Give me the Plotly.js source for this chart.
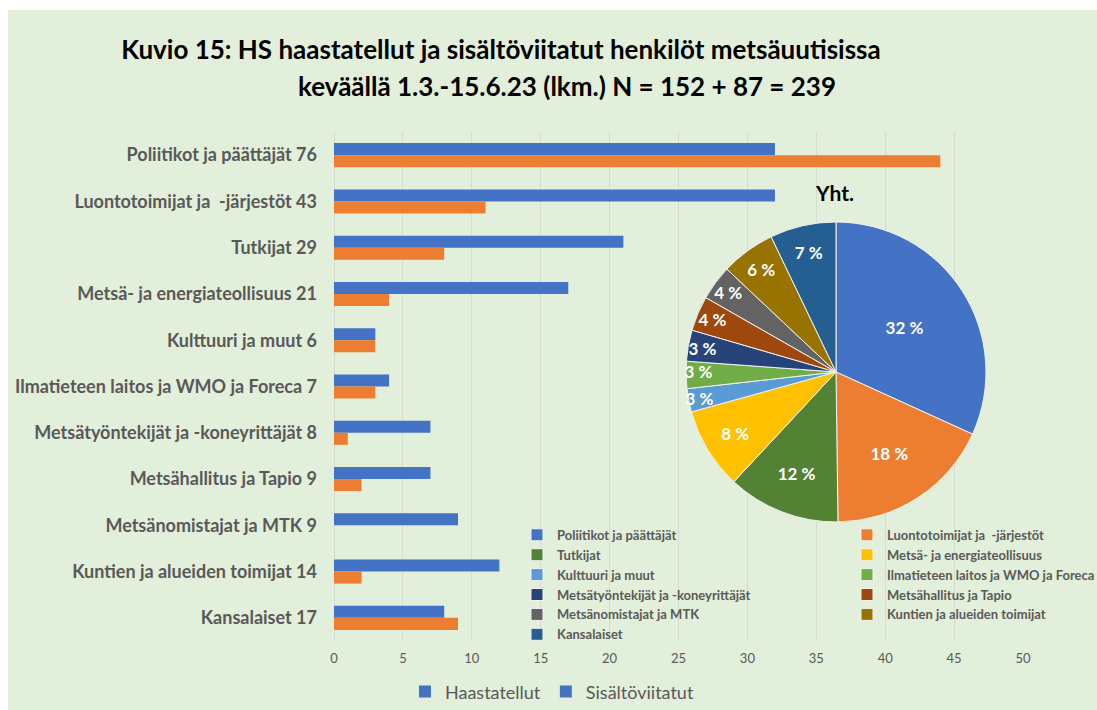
<!DOCTYPE html>
<html>
<head>
<meta charset="utf-8">
<script src="https://cdn.plot.ly/plotly-3.0.1.min.js"></script>
<style>
  html, body { margin: 0; padding: 0; background: #ffffff; width: 1097px; height: 710px; overflow: hidden; }
  #chart { position: absolute; left: 8px; top: 10px; width: 1089px; height: 700px; }
</style>
</head>
<body>
<div id="chart"></div>
<script>
// ---- Data ----
const categories = [
  'Poliitikot ja päättäjät 76',
  'Luontotoimijat ja  -järjestöt 43',
  'Tutkijat 29',
  'Metsä- ja energiateollisuus 21',
  'Kulttuuri ja muut 6',
  'Ilmatieteen laitos ja WMO ja Foreca 7',
  'Metsätyöntekijät ja -koneyrittäjät 8',
  'Metsähallitus ja Tapio 9',
  'Metsänomistajat ja MTK 9',
  'Kuntien ja alueiden toimijat 14',
  'Kansalaiset 17'
];
const haastatellut = [32, 32, 21, 17, 3, 4, 7, 7, 9, 12, 8];
const sisaltoviitatut = [44, 11, 8, 4, 3, 3, 1, 2, 0, 2, 9];

const pieGroups = [
  'Poliitikot ja päättäjät',
  'Luontotoimijat ja  -järjestöt',
  'Tutkijat',
  'Metsä- ja energiateollisuus',
  'Kulttuuri ja muut',
  'Ilmatieteen laitos ja WMO ja Foreca',
  'Metsätyöntekijät ja -koneyrittäjät',
  'Metsähallitus ja Tapio',
  'Metsänomistajat ja MTK',
  'Kuntien ja alueiden toimijat',
  'Kansalaiset'
];
const pieTotals = [76, 43, 29, 21, 6, 7, 8, 9, 9, 14, 17];
const pieLabels = ['32 %', '18 %', '12 %', '8 %', '3 %', '3 %', '3 %', '4 %', '4 %', '6 %', '7 %'];
const pieColors = ['#4472C4', '#ED7D31', '#548235', '#FFC000', '#5B9BD5', '#70AD47',
                   '#264478', '#9E480E', '#636363', '#997300', '#255E91'];

const xTicks = [0, 5, 10, 15, 20, 25, 30, 35, 40, 45, 50];

// ---- Styling ----
const FONT = 'Lato, "Open Sans", sans-serif';
const GRAY = '#595959';
const BG = '#E2EFDA';

const traces = [
  {
    type: 'bar', orientation: 'h', name: 'Haastatellut',
    y: categories, x: haastatellut,
    marker: { color: '#4472C4' },
    showlegend: false, hoverinfo: 'x+y'
  },
  {
    type: 'bar', orientation: 'h', name: 'Sisältöviitatut',
    y: categories, x: sisaltoviitatut,
    marker: { color: '#ED7D31' },
    showlegend: false, hoverinfo: 'x+y'
  },
  // legend entries (the original legend shows both swatches in blue)
  {
    type: 'scatter', mode: 'markers', name: 'Haastatellut',
    x: [null], y: [null], legend: 'legend',
    marker: { symbol: 'square', size: 12, color: '#4472C4' }
  },
  {
    type: 'scatter', mode: 'markers', name: 'Sisältöviitatut',
    x: [null], y: [null], legend: 'legend',
    marker: { symbol: 'square', size: 12, color: '#4472C4' }
  },
  {
    type: 'pie', name: 'Yht.',
    labels: pieGroups, values: pieTotals,
    text: pieLabels, textinfo: 'text',
    textposition: 'inside', insidetextorientation: 'horizontal',
    textfont: { family: FONT, size: 17, color: '#ffffff', weight: 'bold' },
    marker: { colors: pieColors, line: { color: '#f2f2f2', width: 1 } },
    sort: false, direction: 'clockwise', rotation: 0,
    domain: { x: [0.5109, 0.9463], y: [0.2338, 0.8232] },
    legend: 'legend2', showlegend: true
  }
];

const layout = {
  width: 1089, height: 700,
  margin: { l: 326, r: 74, t: 122, b: 69, autoexpand: false },
  paper_bgcolor: BG, plot_bgcolor: BG,
  font: { family: FONT, color: GRAY },
  barmode: 'group', bargap: 0.48, bargroupgap: 0,
  uniformtext: { minsize: 16, mode: 'show' },
  title: {
    text: '<b>Kuvio 15: HS haastatellut ja sisältöviitatut henkilöt metsäuutisissa</b>',
    font: { family: FONT, size: 26, color: '#000000' },
    xref: 'container', yref: 'container',
    x: 0.4527, xanchor: 'center', y: 0.943, yanchor: 'middle'
  },
  annotations: [
    {
      text: '<b>keväällä 1.3.-15.6.23 (lkm.) N = 152 + 87 = 239</b>',
      xref: 'paper', yref: 'paper', x: 0.338, y: 1.09,
      xanchor: 'center', yanchor: 'middle', showarrow: false,
      font: { family: FONT, size: 26, color: '#000000' }
    },
    {
      text: '<b>Yht.</b>',
      xref: 'paper', yref: 'paper', x: 0.7257, y: 0.882,
      xanchor: 'center', yanchor: 'middle', showarrow: false,
      font: { family: FONT, size: 21, color: '#000000' }
    }
  ],
  xaxis: {
    range: [0, 50], tickvals: xTicks, ticktext: xTicks.map(String),
    showgrid: true, gridcolor: '#D3DCCF', gridwidth: 1,
    zeroline: true, zerolinecolor: '#D3DCCF', zerolinewidth: 1,
    showline: false, ticks: '', ticklabelstandoff: 8,
    tickfont: { family: FONT, size: 13, color: GRAY },
    fixedrange: true
  },
  yaxis: {
    type: 'category', categoryorder: 'array', categoryarray: categories,
    autorange: 'reversed',
    showgrid: false, zeroline: false, showline: false, ticks: '',
    ticklabelstandoff: 16,
    tickfont: { family: FONT, size: 18, color: GRAY, weight: 'bold' },
    fixedrange: true
  },
  legend: {
    orientation: 'h', x: 0.103, xanchor: 'left', y: -0.1, yanchor: 'middle',
    bgcolor: 'rgba(0,0,0,0)',
    font: { family: FONT, size: 18, color: GRAY }
  },
  legend2: {
    orientation: 'h', x: 0.2656, xanchor: 'left', y: 0.238, yanchor: 'top',
    bgcolor: 'rgba(0,0,0,0)', entrywidth: 285, traceorder: 'normal',
    font: { family: FONT, size: 13, color: GRAY, weight: 'bold' }
  },
  showlegend: true
};

Plotly.newPlot('chart', traces, layout, { displayModeBar: false, staticPlot: true });
</script>
</body>
</html>
